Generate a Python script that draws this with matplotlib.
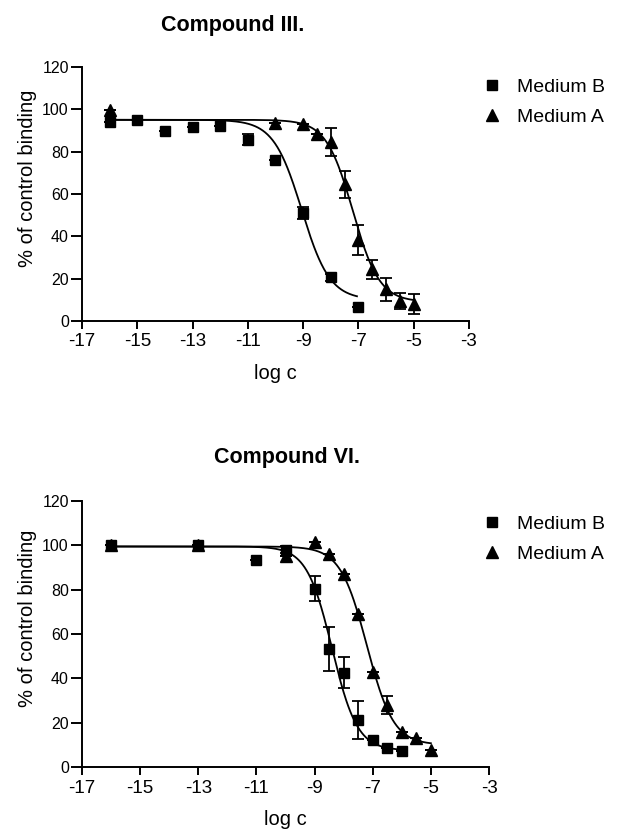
import numpy as np
import matplotlib
matplotlib.use("Agg")
import matplotlib.pyplot as plt
from matplotlib.lines import Line2D

plt.rcParams['font.family'] = ['Liberation Sans', 'DejaVu Sans']

# Compound III.
c3_b_x = [-16, -15, -14, -13, -12, -11, -10, -9, -8, -7]
c3_b_y = [94, 95, 89.6, 91.4, 92, 85.7, 76, 50.8, 20.6, 6.4]
c3_b_err = [0, 0, 0, 0, 0, 2.5, 0, 2.8, 1.5, 0]
c3_a_x = [-16, -10, -9, -8.5, -8, -7.5, -7, -6.5, -6, -5.5, -5]
c3_a_y = [99.5, 93.5, 93, 88.5, 84.6, 64.6, 38.2, 24.5, 15, 9.6, 8]
c3_a_err = [0, 0, 0, 0, 6.7, 6.3, 7, 4.5, 5.5, 3.8, 4.5]
# fitted curve params: top, bottom, logIC50, hill, x range
c3_b_fit = (95, 10, -9.05, 0.85, -16, -7.05)
c3_a_fit = (95, 9, -7.2, 0.9, -16, -5)

# Compound VI.
c6_b_x = [-16, -13, -11, -10, -9, -8.5, -8, -7.5, -7, -6.5, -6]
c6_b_y = [100, 100, 93.5, 98, 80.5, 53.4, 42.6, 21.4, 12, 8.6, 7.1]
c6_b_err = [0, 0, 0, 1.5, 5.6, 10, 7, 8.6, 0, 0, 0]
c6_a_x = [-16, -13, -10, -9, -8.5, -8, -7.5, -7, -6.5, -6, -5.5, -5]
c6_a_y = [100, 100, 95, 101.5, 96, 87, 69, 43, 28, 16, 13, 7.8]
c6_a_err = [0, 0, 0, 0, 0, 0, 0, 0, 4, 0, 0, 0]
c6_b_fit = (99.5, 7.5, -8.4, 1.0, -16, -6)
c6_a_fit = (99.5, 10, -7.2, 0.95, -16, -5)

xticks = [-17, -15, -13, -11, -9, -7, -5, -3]
yticks = [0, 20, 40, 60, 80, 100, 120]
W, H = 618, 833


def sigmoid(fit):
    top, bottom, mid, hill, x0, x1 = fit
    x = np.linspace(x0, x1, 300)
    return x, bottom + (top - bottom) / (1 + 10 ** (hill * (x - mid)))


def draw(ax, bx, by, berr, ax_, ay, aerr, bfit, afit, ylab_x, xlab_y, leg_y):
    for fit in (bfit, afit):
        x, y = sigmoid(fit)
        ax.plot(x, y, color='black', lw=1.3)
    ax.errorbar(bx, by, yerr=berr, fmt='s', color='black', ms=7.5,
                capsize=4, elinewidth=1.3, capthick=1.3)
    ax.errorbar(ax_, ay, yerr=aerr, fmt='^', color='black', ms=9,
                capsize=4, elinewidth=1.3, capthick=1.3)
    ax.set_xlim(-17, -3)
    ax.set_ylim(0, 120)
    ax.set_xticks(xticks)
    ax.set_xticklabels([str(t) for t in xticks])
    ax.set_yticks(yticks)
    for s in ('top', 'right'):
        ax.spines[s].set_visible(False)
    for s in ('left', 'bottom'):
        ax.spines[s].set_linewidth(1.4)
    ax.tick_params(axis='x', direction='out', length=5.5, width=1.4,
                   labelsize=13.5, pad=3.5)
    ax.tick_params(axis='y', direction='out', length=8, width=1.4,
                   labelsize=11.5, pad=1.5)
    ax.set_ylabel('% of control binding', fontsize=14.5)
    ax.yaxis.set_label_coords(ylab_x, 0.56)
    ax.set_xlabel('log c', fontsize=14.5)
    ax.xaxis.set_label_coords(0.5, xlab_y)
    ax.xaxis.label.set_va('center')
    ax.yaxis.label.set_va('center')
    handles = [Line2D([], [], marker='s', ls='', color='black', ms=6.5),
               Line2D([], [], marker='^', ls='', color='black', ms=8)]
    ax.legend(handles, ['Medium B', 'Medium A'], loc='upper left',
              bbox_to_anchor=(482 / W, 1 - leg_y / H),
              bbox_transform=ax.figure.transFigure, frameon=False,
              fontsize=14, handlelength=1.0, handletextpad=0.8,
              labelspacing=0.65, borderaxespad=0, borderpad=0)


fig = plt.figure(figsize=(6.18, 8.33), dpi=100)
ax1 = fig.add_axes([0.1327, 0.6147, 0.626, 0.305])
ax2 = fig.add_axes([0.1327, 0.0792, 0.6586, 0.3193])

draw(ax1, c3_b_x, c3_b_y, c3_b_err, c3_a_x, c3_a_y, c3_a_err, c3_b_fit, c3_a_fit,
     -0.142, -0.205, 78)
draw(ax2, c6_b_x, c6_b_y, c6_b_err, c6_a_x, c6_a_y, c6_a_err, c6_b_fit, c6_a_fit,
     -0.135, -0.199, 515)

fig.text(0.377, 1 - 25 / H, 'Compound III.', ha='center', va='center',
         fontsize=15.5, fontweight='bold')
fig.text(0.464, 1 - 457 / H, 'Compound VI.', ha='center', va='center',
         fontsize=15.5, fontweight='bold')

fig.savefig('out.png', dpi=100)
